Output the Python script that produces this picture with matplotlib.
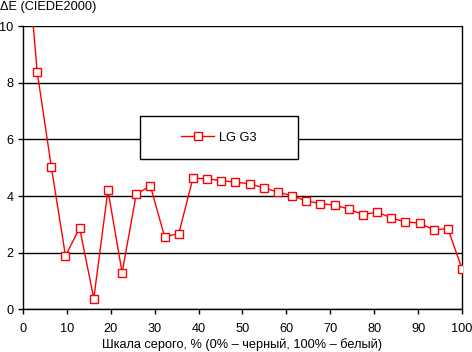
import matplotlib

matplotlib.use("Agg")
import matplotlib.patches as mpatches  # noqa: E402
import matplotlib.pyplot as plt  # noqa: E402
import numpy as np  # noqa: E402

# grey level steps, 32 points from 0 to 100 %
gray_pct = np.arange(32) * 100 / 31
delta_e = [14.3, 8.39, 5.03, 1.89, 2.87, 0.38, 4.21, 1.29, 4.07, 4.35, 2.56,
           2.67, 4.63, 4.61, 4.54, 4.49, 4.43, 4.29, 4.14, 4.01, 3.83, 3.73,
           3.68, 3.54, 3.34, 3.43, 3.23, 3.08, 3.05, 2.80, 2.85, 1.43]
series_name = "LG G3"
x_ticks = list(range(0, 101, 10))
y_ticks = [0, 2, 4, 6, 8, 10]

FS = 9.2
plt.rcParams["font.family"] = ["Liberation Sans", "DejaVu Sans"]
plt.rcParams["font.size"] = FS

fig = plt.figure(figsize=(4.72, 3.52), dpi=100)
ax = fig.add_axes([0.0487, 0.1213, 0.9301, 0.8047])

ax.plot(gray_pct, delta_e, color="red", lw=1, marker="s", markersize=6,
        markerfacecolor="white", markeredgecolor="red", markeredgewidth=1,
        label=series_name, zorder=3)

ax.set_xlim(0, 100)
ax.set_ylim(0, 10)
ax.set_xticks(x_ticks)
ax.set_yticks(y_ticks)
ax.grid(axis="y", color="black", lw=1)
ax.set_axisbelow(True)
for side in ["left", "right", "bottom"]:
    ax.spines[side].set_color("black")
    ax.spines[side].set_linewidth(1)
ax.spines["top"].set_visible(False)
ax.tick_params(axis="both", direction="out", length=3.5, width=1, colors="black",
               labelsize=FS, pad=3.5)
ax.tick_params(axis="x", pad=6.5)

ax.set_xlabel("Шкала серого, % (0% – черный, 100% – белый)", fontsize=FS, labelpad=2)
fig.text(0.0, 0.997, "ΔE (CIEDE2000)", ha="left", va="top", fontsize=FS)

# legend box: white frame that hides the grid line
box_x0, box_y0, box_w, box_h = 0.2665, 0.5305, 0.3595, 0.1515
ax.add_patch(mpatches.Rectangle((box_x0, box_y0), box_w, box_h, transform=ax.transAxes,
                                facecolor="white", edgecolor="black", lw=1, zorder=4))
leg = ax.legend(loc="center", bbox_to_anchor=(box_x0 + box_w / 2, box_y0 + box_h / 2),
                frameon=False, handlelength=2.6, handletextpad=0.4, borderpad=0,
                fontsize=FS)
leg.set_zorder(5)

fig.savefig("out.png", dpi=100)
